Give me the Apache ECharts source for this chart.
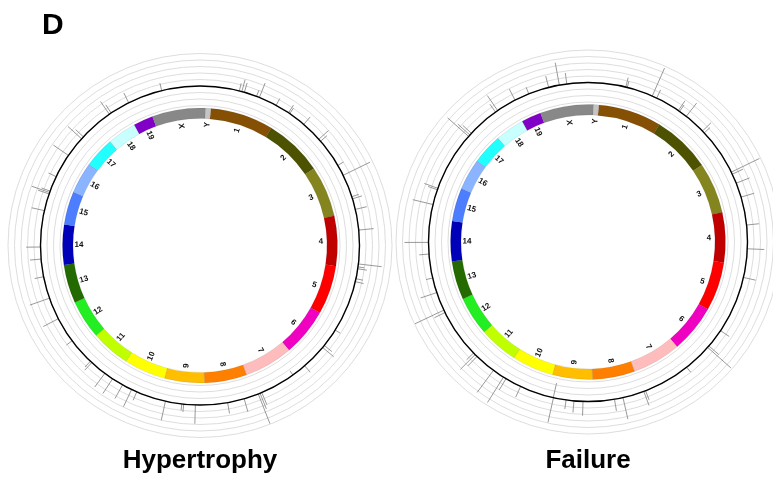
<!DOCTYPE html>
<html>
<head>
<meta charset="utf-8">
<script src="https://cdn.jsdelivr.net/npm/echarts@6/dist/echarts.min.js"></script>
<style>
  html, body { margin: 0; padding: 0; background: #fff; }
  #chart { width: 773px; height: 479px; }
</style>
</head>
<body>
<div id="chart"></div>
<script>
// Mouse genome (mm9) chromosome names and lengths in Mb
const chromosomes = ['1','2','3','4','5','6','7','8','9','10','11','12','13','14','15','16','17','18','19','X','Y'];
const chromLengths = [197.195, 181.748, 159.599, 155.630, 152.537, 149.517, 152.524, 131.738, 124.076, 129.994,
                      121.843, 121.257, 120.284, 125.194, 103.494, 98.319, 95.272, 90.773, 61.342, 166.650, 15.903];
const chromColors = ['#855004', '#4d5200', '#85851f', '#c00000', '#ff0000', '#f000c0', '#ffbcbc', '#ff8000',
                     '#ffbf00', '#ffff00', '#c0ff00', '#22ee22', '#236b00', '#0000b8', '#4d7eff', '#8ab4ff',
                     '#22ffff', '#c8ffff', '#8000c8', '#888888', '#c4c4c4'];

// Signal track scale (units between grid circles)
const trackTicks = [-3, -2, -1, 0, 1, 2, 3, 4, 5];

const panelTitles = ['Hypertrophy', 'Failure'];

// Per-locus signal: [chromosome, position (Mb), value]
const hypertrophySignals = [
  ['1', 72, 1.2], ['1', 79, 1.9], ['1', 86, 1.5], ['1', 120, 1.0], ['1', 128, 2.4], ['1', 177, 1.2],
  ['2', 18, 1.4], ['2', 22, 1.0], ['2', 69, 1.5], ['2', 125, 2.0], ['2', 132, 1.3],
  ['3', 29, 1.0], ['3', 59, 4.6], ['3', 120, 1.1], ['3', 126, 1.5], ['3', 155, 1.8],
  ['4', 51, 2.3], ['4', 141, 3.6], ['4', 149, 1.0], ['4', 154, 1.4],
  ['5', 25, 1.1], ['5', 33, 1.3],
  ['6', 20, 0.9], ['6', 70, 1.5], ['6', 77, 2.2], ['6', 145, 1.3],
  ['7', 35, -0.8], ['7', 130, 2.0], ['7', 135, 2.6], ['7', 140, 4.9],
  ['8', 27, 2.1], ['8', 72, 1.7],
  ['9', 26, 2.9], ['9', 57, 1.2], ['9', 62, 1.0], ['9', 106, 3.0],
  ['10', 62, 1.4], ['10', 77, 2.9], ['10', 104, 2.4],
  ['11', 5, 2.7], ['11', 30, 2.6], ['11', 75, 1.6], ['11', 80, 1.2],
  ['12', 31, 1.1], ['12', 100, 2.6],
  ['13', 38, 3.2], ['13', 97, 1.4],
  ['14', 24, 1.7], ['14', 56, 2.2],
  ['15', 28, 2.0], ['15', 74, 1.8], ['15', 78, 2.9], ['15', 82, 1.4],
  ['16', 20, 1.3], ['16', 85, 2.8],
  ['17', 43, 2.8], ['17', 50, 1.6],
  ['18', 46, 2.4], ['18', 52, 1.5],
  ['19', 15, 1.7],
  ['X', 47, 1.2]
];

const failureSignals = [
  ['1', 68, 1.5], ['1', 72, 1.0], ['1', 142, 4.7], ['1', 155, 1.4],
  ['2', 24, 1.8], ['2', 28, 1.2], ['2', 50, 2.6], ['2', 108, 1.8], ['2', 115, 1.2],
  ['3', 60, 4.8], ['3', 66, 1.8], ['3', 92, 2.2], ['3', 131, 2.1],
  ['4', 47, 1.9], ['4', 110, 2.6],
  ['5', 31, 1.9],
  ['6', 33, 1.6], ['6', 84, 2.0], ['6', 89, 4.75],
  ['7', 16, 1.0], ['7', 142, 1.5], ['7', 147, 2.3],
  ['8', 52, 3.4], ['8', 75, 1.8],
  ['9', 27, 2.2], ['9', 51, 1.8], ['9', 72, 1.4], ['9', 106, 3.9], ['9', 106.5, -2.3],
  ['10', 74, 1.8], ['10', 118, 2.0], ['10', 126, 4.6],
  ['11', 28, 4.2], ['11', 85, 2.0], ['11', 92, 3.2], ['11', 98, 1.5],
  ['12', 108, 1.8], ['12', 115, 4.9],
  ['13', 44, 2.6], ['13', 84, 1.05],
  ['14', 28, 1.5], ['14', 59, 3.7],
  ['15', 35, 3.2], ['15', 76, 1.5], ['15', 80, 2.2],
  ['17', 39, 4.3], ['17', 44, 2.5], ['17', 50, 1.8],
  ['18', 40, 1.5], ['18', 47, 2.8],
  ['19', 10, 1.9], ['19', 50, 1.1],
  ['X', 44, 1.8], ['X', 73, 3.5], ['X', 93, 1.7]
];

// Genome-wide offsets of each chromosome
const chromStart = [];
let genomeTotal = 0;
chromLengths.forEach(function (len) { chromStart.push(genomeTotal); genomeTotal += len; });
function genomePos(chrom, mb) { return chromStart[chromosomes.indexOf(chrom)] + mb; }

// Layout of one circular panel
const panels = [
  { center: [200, 245.5], signals: hypertrophySignals },
  { center: [588, 242], signals: failureSignals }
];
const RING_IN = 127, RING_OUT = 137.5, LABEL_R = 121;
const TRACK_IN = 140, TRACK_OUT = 192;
const START_ANGLE = 85.5; // chromosome 1 begins just right of 12 o'clock

const polar = [], angleAxis = [], radiusAxis = [], series = [];

function screenAngle(p, cs) { return Math.atan2(p[1] - cs.cy, p[0] - cs.cx); }

panels.forEach(function (panel, pi) {
  const ideoIdx = pi * 2, trackIdx = pi * 2 + 1;
  // ideogram polar (1 unit = 1 px)
  polar.push({ center: panel.center, radius: [0, RING_OUT] });
  angleAxis.push({ polarIndex: ideoIdx, type: 'value', min: 0, max: genomeTotal, startAngle: START_ANGLE,
    clockwise: true, show: false });
  radiusAxis.push({ polarIndex: ideoIdx, type: 'value', min: 0, max: RING_OUT, show: false });
  // signal track polar with grid circles
  polar.push({ center: panel.center, radius: [TRACK_IN, TRACK_OUT] });
  angleAxis.push({ polarIndex: trackIdx, type: 'value', min: 0, max: genomeTotal, startAngle: START_ANGLE,
    clockwise: true, axisLine: { show: false }, axisTick: { show: false }, axisLabel: { show: false },
    splitLine: { show: false } });
  radiusAxis.push({ polarIndex: trackIdx, type: 'value', min: trackTicks[0], max: trackTicks[trackTicks.length - 1],
    interval: 1, axisLine: { show: false }, axisTick: { show: false }, axisLabel: { show: false },
    splitLine: { show: true, lineStyle: { color: '#d9d9d9', width: 0.9 } } });

  // chromosome ring
  series.push({
    type: 'custom', coordinateSystem: 'polar', polarIndex: ideoIdx, silent: true,
    data: chromosomes.map(function (c, i) { return [RING_OUT, chromStart[i], chromStart[i] + chromLengths[i], i]; }),
    renderItem: function (params, api) {
      const cs = params.coordSys;
      const ps = api.coord([RING_OUT, api.value(1)]);
      const pe = api.coord([RING_OUT, api.value(2)]);
      const pIn = api.coord([RING_IN, api.value(1)]);
      let a0 = screenAngle(ps, cs), a1 = screenAngle(pe, cs);
      while (a1 <= a0) a1 += Math.PI * 2;
      const rOut = Math.hypot(ps[0] - cs.cx, ps[1] - cs.cy);
      const rIn = Math.hypot(pIn[0] - cs.cx, pIn[1] - cs.cy);
      return { type: 'sector', shape: { cx: cs.cx, cy: cs.cy, r0: rIn, r: rOut, startAngle: a0, endAngle: a1, clockwise: true },
        style: { fill: chromColors[api.value(3)], stroke: 'rgba(0,0,0,0.25)', lineWidth: 0.3 } };
    }
  });
  // chromosome labels
  series.push({
    type: 'custom', coordinateSystem: 'polar', polarIndex: ideoIdx, silent: true,
    data: chromosomes.map(function (c, i) { return [LABEL_R, chromStart[i] + chromLengths[i] / 2, i]; }),
    renderItem: function (params, api) {
      const cs = params.coordSys;
      const p = api.coord([api.value(0), api.value(1)]);
      const theta = screenAngle(p, cs);
      const phi = (theta * 180 / Math.PI + 90 + 720) % 360;
      const rot = phi < 180 ? -theta : Math.PI - theta;
      return { type: 'text', x: p[0], y: p[1], rotation: rot,
        style: { text: chromosomes[api.value(2)], fill: '#111', fontSize: 8, fontWeight: 'bold',
          fontFamily: 'Liberation Sans, Arial, sans-serif', align: 'center', verticalAlign: 'middle' } };
    }
  });
  // baseline circle of the signal track
  series.push({
    type: 'custom', coordinateSystem: 'polar', polarIndex: trackIdx, silent: true,
    data: [[0, 0]],
    renderItem: function (params, api) {
      const cs = params.coordSys;
      const p = api.coord([api.value(0), api.value(1)]);
      return { type: 'circle', shape: { cx: cs.cx, cy: cs.cy, r: Math.hypot(p[0] - cs.cx, p[1] - cs.cy) },
        style: { fill: 'none', stroke: '#000', lineWidth: 1.4 }, z2: 5 };
    }
  });
  // signal spikes
  series.push({
    type: 'custom', coordinateSystem: 'polar', polarIndex: trackIdx, silent: true,
    data: panel.signals.map(function (s) { return [s[2], genomePos(s[0], s[1])]; }),
    renderItem: function (params, api) {
      const p0 = api.coord([0, api.value(1)]);
      const p1 = api.coord([api.value(0), api.value(1)]);
      return { type: 'line', shape: { x1: p0[0], y1: p0[1], x2: p1[0], y2: p1[1] },
        style: { stroke: '#808080', lineWidth: 0.8 } };
    }
  });
});

const chart = echarts.init(document.getElementById('chart'), null, { renderer: 'canvas' });
chart.setOption({
  animation: false,
  backgroundColor: '#ffffff',
  polar: polar,
  angleAxis: angleAxis,
  radiusAxis: radiusAxis,
  series: series,
  graphic: [
    { type: 'text', left: 42, top: 11, style: { text: 'D', fontSize: 30, fontWeight: 'bold',
      fontFamily: 'Liberation Sans, Arial, sans-serif', fill: '#000' } },
    { type: 'text', x: 200, y: 461, style: { text: panelTitles[0], fontSize: 26, fontWeight: 'bold',
      fontFamily: 'Liberation Sans, Arial, sans-serif', fill: '#000', align: 'center', verticalAlign: 'middle' } },
    { type: 'text', x: 588, y: 461, style: { text: panelTitles[1], fontSize: 26, fontWeight: 'bold',
      fontFamily: 'Liberation Sans, Arial, sans-serif', fill: '#000', align: 'center', verticalAlign: 'middle' } }
  ]
});
</script>
</body>
</html>
